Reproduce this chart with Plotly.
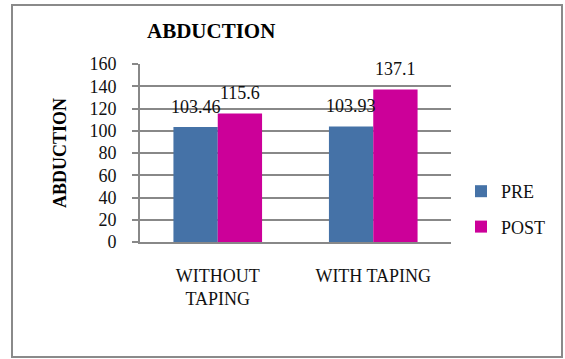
import plotly.graph_objects as go

categories = ["WITHOUT<br>TAPING", "WITH TAPING"]
pre_values = [103.46, 103.93]
post_values = [115.6, 137.1]
series_names = ["PRE", "POST"]
y_ticks = [0, 20, 40, 60, 80, 100, 120, 140, 160]

W, H = 565, 359
# plot area in pixels
PL, PR, PT, PB = 140, 451, 64, 242
FONT = "Liberation Serif"
COLORS = ["#4572A7", "#CC0099"]
GRID = "#888888"

fig = go.Figure()
for name, vals, col in zip(series_names, [pre_values, post_values], COLORS):
    fig.add_trace(go.Bar(
        x=categories, y=vals, name=name, legendgroup=name,
        marker=dict(color=col, line=dict(width=0)),
    ))

# value labels above each bar
for i, (name, vals) in enumerate(zip(series_names, [pre_values, post_values])):
    for j, v in enumerate(vals):
        fig.add_annotation(
            x=categories[j], y=v, xref="x", yref="y",
            text=f"{v:g}", showarrow=False,
            xshift=(-22 if i == 0 else 22), yshift=8,
            xanchor="center", yanchor="bottom",
            font=dict(family=FONT, size=18, color="#111"),
        )

pw, ph = PR - PL, PB - PT
def px(xp):
    return (xp - PL) / pw
def py(yp):
    return (PB - yp) / ph

# outer chart border
fig.add_shape(type="rect", xref="paper", yref="paper",
              x0=px(12), x1=px(562), y0=py(357), y1=py(5),
              line=dict(color="#8a8a8a", width=2), layer="below")

fig.add_annotation(text="<b>ABDUCTION</b>", xref="paper", yref="paper",
                   x=px(211), y=py(31), showarrow=False,
                   xanchor="center", yanchor="middle",
                   font=dict(family=FONT, size=21, color="#000"))
fig.add_annotation(text="<b>ABDUCTION</b>", xref="paper", yref="paper",
                   x=px(60), y=py(153), showarrow=False, textangle=-90,
                   xanchor="center", yanchor="middle",
                   font=dict(family=FONT, size=18, color="#000"))

fig.update_layout(
    width=W, height=H,
    margin=dict(l=PL, r=W - PR, t=PT, b=H - PB),
    paper_bgcolor="white", plot_bgcolor="white",
    barmode="group", bargap=0.43, bargroupgap=0,
    font=dict(family=FONT, size=18, color="#111"),
    showlegend=True,
    legend=dict(x=px(461), y=py(173), xanchor="left", yanchor="top",
                font=dict(family=FONT, size=18, color="#111"),
                traceorder="grouped", tracegroupgap=9,
                itemwidth=30, bgcolor="rgba(0,0,0,0)"),
)
fig.update_xaxes(showgrid=False, showline=True, linecolor=GRID, linewidth=2,
                 ticks="", tickfont=dict(family=FONT, size=18, color="#111"),
                 ticklabelstandoff=16, fixedrange=True)
fig.update_yaxes(range=[0, 160], tickvals=y_ticks, showgrid=True,
                 gridcolor=GRID, gridwidth=1.8, showline=True,
                 linecolor=GRID, linewidth=2, ticks="outside", ticklen=6,
                 tickcolor=GRID, tickwidth=1.8, ticklabelstandoff=12,
                 zeroline=False,
                 tickfont=dict(family=FONT, size=18, color="#111"),
                 fixedrange=True)

fig.write_html("out.html")
